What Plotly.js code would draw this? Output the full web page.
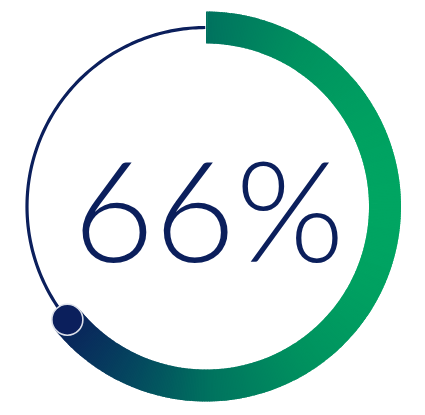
<!DOCTYPE html>
<html>
<head>
<meta charset="utf-8">
<script src="https://cdn.plot.ly/plotly-3.0.1.min.js"></script>
<style>html,body{margin:0;padding:0;background:#fff;}#chart{width:425px;height:415px;}</style>
</head>
<body>
<div id="chart"></div>
<script>
// ---- data ----
const labelValue = [66];          // number shown in the centre (%)
const arcPercent = [64.1];        // share of the circle covered by the thick arc, as drawn
const fullPercent = [100];
// gradient stops: horizontal pixel position -> colour
const gradX = [60, 130, 210, 300, 390];
const gradColors = ['#0b1f5b', '#05465f', '#00735f', '#00915f', '#00a662'];

// ---- layout constants ----
const W = 425, H = 415;
const cx = 206, cyTop = 206.5, R = 200;   // polar centre (px) and radial range
const rInner = 163, rOuter = 195, rTrack = 179;
const navy = '#0b1f5c';

function hex2rgb(h){return [1,3,5].map(i=>parseInt(h.substr(i,2),16));}
function colorAtX(x){
  if (x <= gradX[0]) return gradColors[0];
  for (let i=1;i<gradX.length;i++){
    if (x <= gradX[i]){
      const t=(x-gradX[i-1])/(gradX[i]-gradX[i-1]);
      const a=hex2rgb(gradColors[i-1]), b=hex2rgb(gradColors[i]);
      const c=a.map((v,k)=>Math.round(v+(b[k]-v)*t));
      return 'rgb('+c.join(',')+')';
    }
  }
  return gradColors[gradColors.length-1];
}

const endDeg = arcPercent[0]/fullPercent[0]*360;
const step = 0.5;
const nSeg = Math.ceil(endDeg/step);
const thetas=[], widths=[], colors=[], rs=[], bases=[];
for (let i=0;i<nSeg;i++){
  const a0=i*step, a1=Math.min(endDeg,(i+1)*step);
  const mid=(a0+a1)/2;
  thetas.push(mid);
  widths.push(i===0 ? (a1-a0) : (a1-a0)*1.6);
  const xpx = cx + rTrack*Math.sin(mid*Math.PI/180);
  colors.push(colorAtX(xpx));
  rs.push(rOuter-rInner);
  bases.push(rInner);
}

const trackTheta=[], trackR=[];
for (let a=endDeg; a<=360.001; a+=1){ trackTheta.push(a); trackR.push(rTrack); }

const traces = [
  {type:'scatterpolar', mode:'lines', theta:trackTheta, r:trackR,
   line:{color:navy, width:3.2}, hoverinfo:'skip', showlegend:false},
  {type:'barpolar', theta:thetas, r:rs, base:bases, width:widths,
   marker:{color:colors, line:{width:0}}, hoverinfo:'skip', showlegend:false},
  {type:'scatterpolar', mode:'markers', theta:[endDeg], r:[rTrack],
   marker:{size:31, color:navy, line:{color:'#dde1ea', width:1.6}},
   hoverinfo:'skip', showlegend:false}
];

const ax = {visible:false, showgrid:false, showline:false, showticklabels:false, ticks:''};
const layout = {
  width:W, height:H, margin:{l:0,r:0,t:0,b:0},
  paper_bgcolor:'#ffffff', plot_bgcolor:'#ffffff', showlegend:false,
  polar:{
    domain:{x:[(cx-R)/W,(cx+R)/W], y:[(H-cyTop-R)/H,(H-cyTop+R)/H]},
    bgcolor:'rgba(0,0,0,0)',
    radialaxis:Object.assign({range:[0,R]},ax),
    angularaxis:Object.assign({rotation:90, direction:'clockwise'},ax),
    bargap:0
  },
  annotations:[{
    text: labelValue[0]+'%', xref:'paper', yref:'paper',
    x:209/W, y:(H-208)/H, xanchor:'center', yanchor:'middle', showarrow:false,
    font:{family:'Lato, "Open Sans", sans-serif', size:140, weight:300, color:navy}
  }]
};
Plotly.newPlot('chart', traces, layout, {displayModeBar:false, staticPlot:true});
</script>
</body>
</html>
